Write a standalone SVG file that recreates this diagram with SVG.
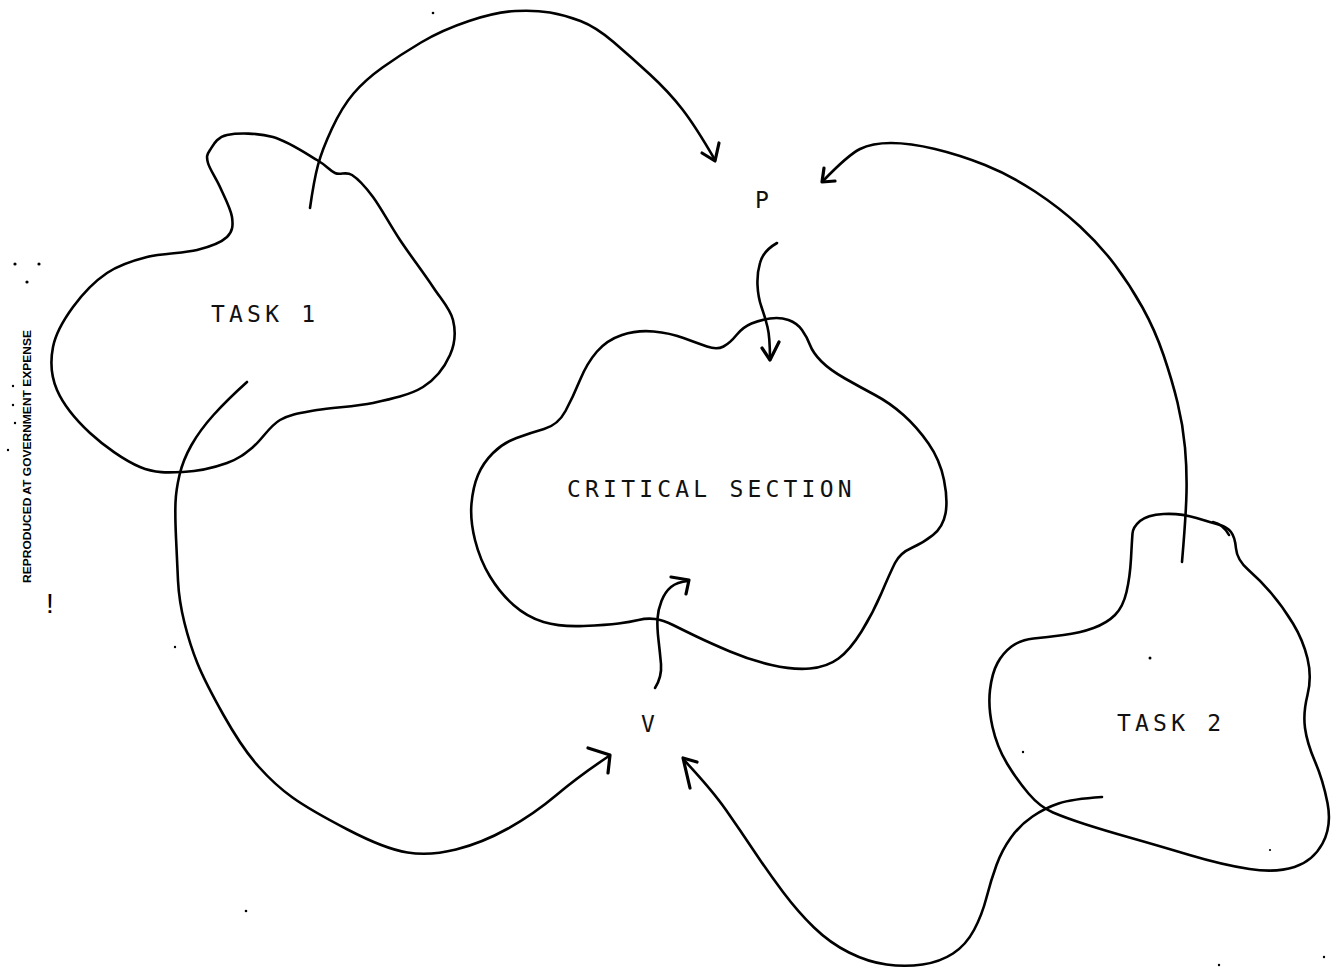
<svg xmlns="http://www.w3.org/2000/svg" width="1334" height="969" viewBox="0 0 1334 969">
  <style>
    .blob { fill: none; stroke: #000; stroke-width: 2.6; stroke-linejoin: round; stroke-linecap: round; }
    .wire { fill: none; stroke: #000; stroke-width: 2.6; stroke-linecap: round; stroke-linejoin: round; }
    .head { fill: none; stroke: #000; stroke-width: 3.2; stroke-linecap: round; stroke-linejoin: round; }
    .lbl { font-family: "DejaVu Sans Mono", "Liberation Mono", monospace; font-size: 23px; fill: #111; letter-spacing: 4.2px; }
    .dot { fill: #000; }
    .stamp { font-family: "Liberation Sans", Arial, sans-serif; font-weight: bold; font-size: 10px; fill: #000; }
  </style>

  <rect width="1334" height="969" fill="#fff"/>

  <!-- margin stamp and specks -->
  <g id="margin">
    <text class="stamp" transform="translate(31,583) rotate(-90)" textLength="253" lengthAdjust="spacingAndGlyphs">REPRODUCED AT GOVERNMENT EXPENSE</text>
    <text x="46" y="613" font-family="Liberation Sans, Arial, sans-serif" font-size="28" fill="#000">!</text>
    <circle class="dot" cx="15" cy="264" r="1.6"/>
    <circle class="dot" cx="39" cy="264" r="1.6"/>
    <circle class="dot" cx="27" cy="282" r="1.6"/>
    <circle class="dot" cx="13" cy="386" r="1.2"/>
    <circle class="dot" cx="13" cy="405" r="1.2"/>
    <circle class="dot" cx="15" cy="423" r="1.2"/>
    <circle class="dot" cx="8" cy="450" r="1.2"/>
    <circle class="dot" cx="433" cy="13" r="1.3"/>
    <circle class="dot" cx="175" cy="647" r="1.2"/>
    <circle class="dot" cx="246" cy="911" r="1.3"/>
    <circle class="dot" cx="1150" cy="658" r="1.5"/>
    <circle class="dot" cx="1023" cy="752" r="1.2"/>
    <circle class="dot" cx="1270" cy="850" r="1.1"/>
    <circle class="dot" cx="1219" cy="965" r="1.2"/>
    <circle class="dot" cx="1324" cy="957" r="1.2"/>
  </g>

  <!-- TASK 1 -->
  <g id="task1">
    <path class="blob" d="M210,150 C213.2,145.3 216.5,137.2 227,135 S258,132.8 273,137 S306.7,154 317,160 S329.2,170.5 335,173 S345.7,171 352,175 S365,186.2 373,197 S390,225 400,240 S424.2,273.7 433,287 S450.2,308.7 453,320 S455,343.8 450,355 S435.8,379 423,387 S390.7,399.2 373,403 S332.5,407.2 317,410 S290.7,413.8 280,420 S261.8,439.8 253,447 S238.7,458.8 227,463 S197.5,471.3 183,472 S155.5,473.5 140,467 S103.8,445.8 90,433 S63.2,404.3 57,390 S50.3,360.8 53,347 S64,319.3 73,307 S94.7,281.3 107,273 S132,260.8 147,257 S183.7,253.3 197,250 S221.2,242.5 227,237 S233.2,225.3 232,217 S224,196 220,187 S209.7,169.2 208,163 S206.8,154.7 210,150 Z"/>
    <text class="lbl" x="211" y="322">TASK 1</text>
  </g>

  <!-- CRITICAL SECTION -->
  <g id="critical-section">
    <path class="blob" d="M544,429 Q558,425 565.5,411 Q573,397 580,380 Q587,363 597,351.5 Q607,340 622,335 Q637,330 653.5,331.5 Q670,333 683.5,338 Q697,343 707,346.5 Q717,350 723.5,346.5 Q730,343 736.5,335 Q743,327 751.5,323.5 Q760,320 770,318.5 Q780,317 788.5,320 Q797,323 802,330 Q807,337 810,345 Q813,353 821.5,361.5 Q830,370 845,378.5 Q860,387 875,395 Q890,403 903.5,415 Q917,427 928.5,443.5 Q940,460 944,480 Q948,500 945.5,513.5 Q943,527 933,535 Q923,543 911.5,548 Q900,553 895,563 Q890,573 881.5,593 Q873,613 861.5,631.5 Q850,650 838.5,658.5 Q827,667 810,668.5 Q793,670 771.5,665 Q750,660 730,651.5 Q710,643 696.5,636.5 Q683,630 673,625 Q663,620 655,619 Q647,618 638.5,620 Q630,622 618.5,623.5 Q607,625 583.5,626 Q560,627 543.5,622 Q527,617 513.5,605 Q500,593 490,576.5 Q480,560 475,540 Q470,520 471.5,503.5 Q473,487 478,475 Q483,463 493,453 Q503,443 516.5,438 Q530,433 544,429 Z"/>
    <text class="lbl" x="567" y="497">CRITICAL SECTION</text>
  </g>

  <!-- TASK 2 -->
  <g id="task2">
    <path class="blob" d="M1132.5,533.5 Q1133,527 1140,521 Q1147,515 1163.5,514 Q1180,513 1196.5,518 Q1213,523 1220,525 Q1227,527 1231,532 Q1235,537 1236,548.5 Q1237,560 1248.5,570 Q1260,580 1271.5,593.5 Q1283,607 1293,623.5 Q1303,640 1307.5,658.5 Q1312,677 1307.5,695 Q1303,713 1305,728 Q1307,743 1315,761.5 Q1323,780 1327.5,803 Q1332,826 1322.5,843.5 Q1313,861 1294.5,867 Q1276,873 1249.5,869 Q1223,865 1189.5,855 Q1156,845 1129.5,837.5 Q1103,830 1084.5,824 Q1066,818 1053,812.5 Q1040,807 1028.5,793.5 Q1017,780 1007,763.5 Q997,747 992.5,727 Q988,707 990,690 Q992,673 997.5,663 Q1003,653 1011.5,646.5 Q1020,640 1033.5,638.5 Q1047,637 1063.5,635 Q1080,633 1093.5,628 Q1107,623 1115,615 Q1123,607 1126.5,592 Q1130,577 1131,558.5 Q1132,540 1132.5,533.5 Z"/>
    <path class="blob" d="M1213,522 Q1223,524 1229,535"/>
    <text class="lbl" x="1117" y="731">TASK 2</text>
  </g>

  <!-- semaphore operations -->
  <g id="sem-p">
    <text class="lbl" x="755" y="208" font-size="24">P</text>
  </g>
  <g id="sem-v">
    <text class="lbl" x="641" y="732" font-size="20">V</text>
  </g>

  <!-- connectors -->
  <g id="connectors">
    <!-- TASK 1 to P -->
    <path class="wire" d="M310,208 Q314,180 318,165 Q322,150 332,128.5 Q342,107 353.5,93.5 Q365,80 382.5,67.5 Q400,55 421,42.5 Q442,30 469,21 Q496,12 515.5,11 Q535,10 550,12.5 Q565,15 580.5,21 Q596,27 613.5,42 Q631,57 650,74.5 Q669,92 682.5,109.5 Q696,127 715,160"/>
    <path class="head" d="M719,143 L715,161 L702,153"/>
    <!-- P into CRITICAL SECTION -->
    <path class="wire" d="M777,243 Q763,251 760,263 Q757,273 757.5,285 Q758,297 761.5,307 Q765,317 767.5,327 Q770,337 770,360"/>
    <path class="head" d="M762,348 L770,360 L779,342"/>
    <!-- CRITICAL SECTION out to V -->
    <path class="wire" d="M655,688 Q662,677 661,664 Q660,653 658.5,640 Q657,627 657.5,618.5 Q658,610 661.5,601 Q665,592 671,587 Q677,582 688,581"/>
    <path class="head" d="M671,577 L689,580 L686,594"/>
    <!-- TASK 1 to V -->
    <path class="wire" d="M247,382 Q227,400 213.5,415 Q200,430 191.5,445 Q183,460 179.5,475 Q176,490 175.5,502.5 Q175,515 176,537.5 Q177,560 178,580.5 Q179,601 184.5,623 Q190,645 197.5,663.5 Q205,682 223.5,715 Q242,748 258.5,766.5 Q275,785 292.5,797.5 Q310,810 347.5,829.5 Q385,849 407.5,852.5 Q430,856 456,849.5 Q482,843 508,828.5 Q534,814 556.5,795 Q579,776 609,756"/>
    <path class="head" d="M588,748 L610,755 L608,773"/>
    <!-- TASK 2 to P -->
    <path class="wire" d="M1182,562 Q1186,515 1186.5,492.5 Q1187,470 1185,447.5 Q1183,425 1177.5,402.5 Q1172,380 1163.5,355 Q1155,330 1142.5,307.5 Q1130,285 1115,265 Q1100,245 1080,226.5 Q1060,208 1035,191.5 Q1010,175 985,165 Q960,155 935,149 Q910,143 891,143 Q872,143 860,149 Q848,155 823,181"/>
    <path class="head" d="M824,168 L822,182 L835,181"/>
    <!-- TASK 2 to V -->
    <path class="wire" d="M1102,797 Q1072,799 1058.5,803.5 Q1045,808 1032.5,816.5 Q1020,825 1011,837.5 Q1002,850 996.5,865 Q991,880 986.5,897.5 Q982,915 974,930 Q966,945 953,953.5 Q940,962 922.5,964.5 Q905,967 886.5,964.5 Q868,962 849,952.5 Q830,943 814,927.5 Q798,912 783,892 Q768,872 754,851 Q740,830 726,810 Q712,790 684,760"/>
    <path class="head" d="M697,762 L683,758 L690,788"/>
  </g>
</svg>
